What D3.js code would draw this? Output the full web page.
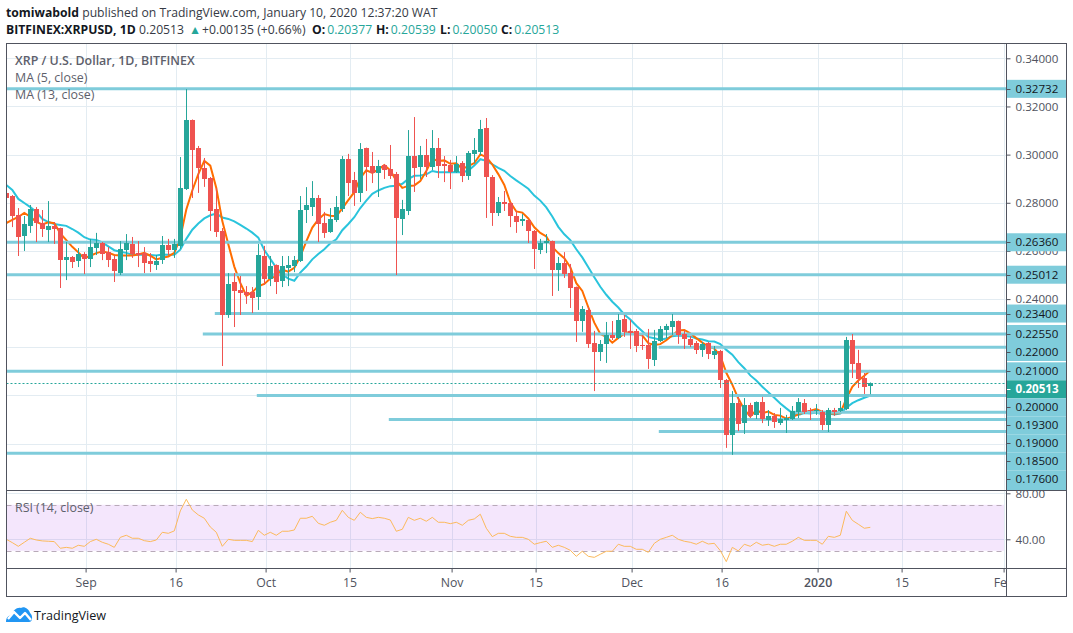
<!DOCTYPE html>
<html><head><meta charset="utf-8">
<style>
html,body{margin:0;padding:0;background:#fff;overflow:hidden}
svg{display:block}
text{font-family:"Open Sans","Noto Sans",sans-serif}
</style>
<script src="https://cdn.jsdelivr.net/npm/d3@7"></script>
</head><body>
<svg id="c" width="1073" height="633"></svg>
<script>
const firstDay = "2019-08-19";
const lastDay = "2020-01-10";
const opens = [.2841,.2828,.2749,.2662,.2704,.2774,.2716,.2687,.2704,.2695,.2562,.2575,.2558,.2587,.2566,.2612,.2633,.2595,.2566,.2508,.2604,.2629,.2591,.2591,.2558,.2542,.2562,.2625,.2604,.2621,.2857,.3144,.3027,.2944,.2903,.2774,.2683,.2334,.2471,.2438,.2429,.2429,.2409,.2579,.2484,.2542,.2475,.2529,.2537,.2558,.2770,.2782,.2820,.2716,.2679,.2729,.2774,.2982,.2895,.2841,.3027,.2953,.2924,.2957,.2940,.2919,.2733,.2766,.2994,.2949,.2998,.2949,.3027,.2961,.2957,.2928,.2965,.2911,.3003,.3011,.3110,.2907,.2758,.2803,.2799,.2745,.2724,.2729,.2683,.2604,.2633,.2641,.2521,.2550,.2508,.2450,.2309,.2355,.2218,.2180,.2214,.2251,.2238,.2317,.2268,.2268,.2209,.2209,.2147,.2226,.2272,.2284,.2309,.2255,.2234,.2218,.2189,.2218,.2168,.2184,.2064,.1836,.1969,.1885,.1960,.1919,.1973,.1898,.1914,.1885,.1898,.1902,.1931,.1969,.1939,.1935,.1931,.1877,.1939,.1935,.1944,.2230,.2135,.2072,.20377];
const highs = [.2853,.2832,.2778,.2745,.2791,.2782,.2770,.2807,.2720,.2697,.2637,.2579,.2612,.2595,.2650,.2675,.2637,.2616,.2583,.2641,.2670,.2658,.2641,.2616,.2591,.2583,.2662,.2650,.2650,.2990,.3272,.3146,.3036,.2986,.2907,.2861,.2695,.2508,.2508,.2496,.2454,.2450,.2629,.2621,.2579,.2544,.2579,.2579,.2579,.2828,.2865,.2890,.2832,.2762,.2778,.2828,.2994,.3003,.2928,.3048,.3029,.3011,.2978,.2961,.3040,.2928,.2812,.3102,.3156,.3036,.3065,.3102,.3069,.2994,.2978,.2994,.2973,.3015,.3069,.3144,.3152,.2915,.2824,.2849,.2803,.2766,.2753,.2731,.2687,.2650,.2670,.2643,.2575,.2595,.2546,.2452,.2371,.2367,.2268,.2230,.2305,.2309,.2338,.2334,.2313,.2276,.2251,.2276,.2272,.2288,.2297,.2338,.2311,.2272,.2247,.2226,.2222,.2222,.2205,.2189,.2068,.2018,.1994,.1989,.1969,.1975,.1994,.1939,.1927,.1948,.1919,.1956,.1989,.1985,.1948,.1964,.1939,.1948,.1948,.1977,.2243,.2255,.2189,.2093,.20539];
const lows = [.2791,.2699,.2579,.2600,.2675,.2637,.2658,.2637,.2629,.2446,.2479,.2529,.2533,.2504,.2533,.2583,.2562,.2533,.2471,.2500,.2562,.2571,.2533,.2508,.2512,.2521,.2546,.2583,.2571,.2608,.2853,.2820,.2841,.2866,.2683,.2658,.2122,.2322,.2284,.2334,.2380,.2342,.2355,.2459,.2454,.2421,.2450,.2454,.2512,.2554,.2716,.2745,.2637,.2654,.2675,.2720,.2762,.2828,.2787,.2803,.2849,.2882,.2824,.2899,.2899,.2500,.2666,.2749,.2845,.2899,.2907,.2936,.2903,.2886,.2857,.2924,.2886,.2895,.2965,.2998,.2737,.2704,.2745,.2766,.2699,.2675,.2704,.2633,.2525,.2587,.2591,.2413,.2434,.2488,.2363,.2222,.2264,.2197,.2018,.2143,.2135,.2230,.2234,.2243,.2193,.2180,.2189,.2110,.2122,.2222,.2238,.2251,.2214,.2193,.2201,.2172,.2160,.2151,.2151,.2031,.1782,.1753,.1852,.1840,.1906,.1902,.1885,.1873,.1865,.1877,.1844,.1898,.1906,.1923,.1898,.1919,.1856,.1848,.1915,.1931,.1939,.2072,.2031,.2006,.20050];
const closes = [.2820,.2745,.2658,.2712,.2774,.2716,.2691,.2704,.2691,.2562,.2575,.2554,.2587,.2566,.2616,.2633,.2587,.2562,.2517,.2608,.2633,.2587,.2583,.2550,.2546,.2558,.2625,.2604,.2629,.2861,.3144,.3019,.2944,.2899,.2766,.2679,.2334,.2463,.2434,.2425,.2417,.2405,.2583,.2484,.2537,.2471,.2537,.2542,.2562,.2770,.2791,.2820,.2712,.2675,.2733,.2782,.2982,.2882,.2841,.3023,.2949,.2924,.2953,.2936,.2911,.2737,.2774,.2994,.2944,.2998,.2949,.3027,.2953,.2953,.2928,.2961,.2911,.3007,.3019,.3106,.2907,.2758,.2803,.2795,.2745,.2720,.2733,.2683,.2608,.2633,.2641,.2521,.2550,.2504,.2446,.2309,.2359,.2214,.2180,.2214,.2251,.2238,.2313,.2264,.2259,.2205,.2205,.2151,.2226,.2276,.2288,.2309,.2251,.2234,.2210,.2189,.2214,.2172,.2184,.2064,.1836,.1969,.1881,.1960,.1914,.1973,.1902,.1914,.1890,.1902,.1906,.1935,.1973,.1931,.1935,.1939,.1877,.1939,.1931,.1948,.2230,.2131,.2068,.2035,.20513];
const ma5 = [.2716,.2729,.2741,.2758,.2742,.2721,.2710,.2719,.2715,.2673,.2645,.2617,.2594,.2569,.2580,.2591,.2598,.2593,.2583,.2581,.2581,.2581,.2585,.2592,.2580,.2565,.2572,.2577,.2592,.2655,.2772,.2851,.2919,.2974,.2954,.2861,.2724,.2628,.2535,.2467,.2414,.2429,.2453,.2463,.2485,.2496,.2522,.2514,.2530,.2577,.2640,.2697,.2731,.2753,.2746,.2744,.2777,.2811,.2844,.2902,.2935,.2924,.2938,.2957,.2934,.2892,.2862,.2870,.2872,.2890,.2932,.2983,.2974,.2976,.2962,.2964,.2941,.2952,.2965,.3001,.2990,.2959,.2919,.2874,.2802,.2764,.2759,.2735,.2698,.2675,.2660,.2617,.2591,.2570,.2532,.2466,.2434,.2366,.2302,.2255,.2243,.2219,.2239,.2256,.2265,.2256,.2249,.2217,.2209,.2213,.2229,.2250,.2270,.2272,.2258,.2238,.2219,.2204,.2194,.2165,.2094,.2045,.1987,.1942,.1912,.1939,.1926,.1933,.1919,.1916,.1903,.1910,.1921,.1930,.1936,.1943,.1931,.1925,.1925,.1927,.1985,.2036,.2062,.2082,.2103];
const ma13 = [.2874,.2853,.2816,.2799,.2782,.2762,.2733,.2720,.2712,.2708,.2704,.2691,.2676,.2657,.2647,.2645,.2635,.2619,.2603,.2597,.2592,.2584,.2585,.2584,.2583,.2581,.2585,.2584,.2584,.2605,.2650,.2688,.2714,.2735,.2748,.2755,.2739,.2733,.2723,.2708,.2693,.2676,.2655,.2604,.2567,.2530,.2503,.2485,.2476,.2510,.2535,.2565,.2587,.2607,.2632,.2648,.2686,.2712,.2740,.2778,.2809,.2837,.2851,.2862,.2869,.2871,.2879,.2899,.2912,.2913,.2918,.2932,.2927,.2927,.2927,.2928,.2926,.2934,.2955,.2981,.2974,.2960,.2945,.2933,.2911,.2893,.2876,.2858,.2830,.2809,.2781,.2743,.2700,.2669,.2645,.2607,.2573,.2532,.2491,.2451,.2418,.2389,.2365,.2336,.2315,.2289,.2266,.2243,.2237,.2231,.2236,.2246,.2249,.2247,.2245,.2236,.2232,.2225,.2224,.2213,.2189,.2169,.2138,.2113,.2083,.2062,.2036,.2013,.1990,.1966,.1946,.1927,.1919,.1927,.1925,.1929,.1922,.1925,.1921,.1925,.1949,.1968,.1980,.1990,.1999];
const rsi = [40.0,37.1,33.9,37.4,40.9,39.4,38.6,38.3,38.0,32.2,33.0,32.2,34.8,33.9,38.0,40.0,37.4,35.7,33.0,41.7,43.5,40.9,40.9,38.8,38.0,39.4,46.1,45.2,47.3,64.7,74.8,65.5,61.2,58.3,50.7,46.1,33.9,40.0,39.1,39.1,39.1,38.0,47.8,43.5,46.1,43.5,47.0,47.0,48.1,58.3,58.3,60.0,53.9,52.2,54.8,56.5,65.2,59.1,56.5,63.5,59.1,58.0,59.1,58.3,56.8,47.0,48.7,59.1,56.5,58.3,55.7,59.1,54.8,54.8,53.6,54.8,52.2,56.5,57.7,61.8,49.6,42.3,45.2,45.2,42.6,41.7,41.7,40.0,35.7,37.1,38.3,33.0,34.8,33.0,30.4,25.2,29.6,25.2,24.3,27.0,29.6,29.6,35.7,33.9,33.9,31.3,31.3,28.7,36.5,40.0,41.7,43.5,40.0,38.3,37.4,35.7,38.3,35.9,36.5,30.1,20.6,33.0,29.9,35.7,33.9,37.4,34.8,35.7,33.9,35.7,35.7,38.3,41.7,39.1,39.1,39.1,35.7,42.6,41.7,43.5,64.4,56.5,53.1,49.6,50.4];
const levels = [.32732,.2636,.25012,.234,.2255,.22,.21,.2,.193,.19,.185,.176];
const levelStarts = [null,null,null,"2019-09-23","2019-09-21","2019-12-06",null,"2019-09-30","2019-12-28","2019-10-22","2019-12-06",null];
const gridTicks = [.34,.32,.30,.28,.26,.24,.22,.20,.18];
const priceTicks = [.34,.32,.30,.28,.26,.24];
const rsiTicks = [80,40];
const rsiBand = [70,30];
const timeTicks = ["2019-09-01","2019-09-16","2019-10-01","2019-10-15","2019-11-01","2019-11-15","2019-12-01","2019-12-16","2020-01-01","2020-01-15","2020-02-01"];
const timeLabels = ["Sep","16","Oct","15","Nov","15","Dec","16","2020","15","Feb"];
const lastPrice = .20513;

const UP="#26a69a",DOWN="#ef5350",LINE="#7fccdb",GRID="#e3ecf2",BORDER="#50535e",TXT="#50535e";
const L=6.5,R=1006.5,RR=1066.5,T=43.5,B=490.5,RB=568.5,TB=596.5;
const day=s=>new Date(s+"T00:00:00Z");
const x=d3.scaleUtc().domain([day(firstDay),day(lastDay)]).range([6.3,870.3]);
const y=d3.scaleLinear().domain([.34,.20]).range([58.3,395.4]);
const ry=d3.scaleLinear().domain([80,40]).range([493.3,539.3]);
const at=i=>d3.utcDay.offset(day(firstDay),i);
const gridOff=1.3;
const svg=d3.select("#c");
const defs=svg.append("defs");
const clip=(id,a,b,c,d)=>defs.append("clipPath").attr("id",id).append("rect").attr("x",a).attr("y",b).attr("width",c-a).attr("height",d-b);
clip("main",L,T,R,B);clip("rs",L,B,R,RB);
const main=svg.append("g").attr("clip-path","url(#main)");
const rp=svg.append("g").attr("clip-path","url(#rs)");

// grid
const vg=t=>Math.round(x(day(t))+gridOff)+.5;
main.selectAll(".gv").data(timeTicks).join("line").attr("x1",vg).attr("x2",vg).attr("y1",T).attr("y2",B).attr("stroke",GRID);
main.selectAll(".gh").data(gridTicks).join("line").attr("x1",L).attr("x2",R).attr("y1",d=>Math.round(y(d))+.5).attr("y2",d=>Math.round(y(d))+.5).attr("stroke",GRID);
rp.selectAll(".gv").data(timeTicks).join("line").attr("x1",vg).attr("x2",vg).attr("y1",B).attr("y2",RB).attr("stroke",GRID);
rp.selectAll(".gh").data(rsiTicks).join("line").attr("x1",L).attr("x2",R).attr("y1",d=>Math.round(ry(d))+.5).attr("y2",d=>Math.round(ry(d))+.5).attr("stroke",GRID);

// MAs
const ln=v=>d3.line().x((d,i)=>x(at(i))).y(d=>y(d))(v);
main.append("path").attr("d",ln(ma13)).attr("fill","none").attr("stroke","#2ac4dc").attr("stroke-width",2);
main.append("path").attr("d",ln(ma5)).attr("fill","none").attr("stroke","#ff6d00").attr("stroke-width",2);

// level lines
main.selectAll(".lv").data(levels).join("line")
 .attr("x1",(d,i)=>levelStarts[i]?x(day(levelStarts[i])):L-3).attr("x2",R)
 .attr("y1",d=>y(d)).attr("y2",d=>y(d))
 .attr("stroke",LINE).attr("stroke-width",3).attr("stroke-linecap","square");

// candles
const idx=d3.range(closes.length);
const col=i=>closes[i]>=opens[i]?UP:DOWN;
main.selectAll(".w").data(idx).join("rect")
 .attr("x",i=>Math.round(x(at(i))-.5)).attr("width",1)
 .attr("y",i=>y(highs[i])).attr("height",i=>y(lows[i])-y(highs[i])).attr("fill",col);
main.selectAll(".b").data(idx).join("rect")
 .attr("x",i=>Math.round(x(at(i))-.5)-2).attr("width",5)
 .attr("y",i=>Math.round(y(Math.max(opens[i],closes[i]))))
 .attr("height",i=>Math.max(1,Math.round(Math.abs(y(opens[i])-y(closes[i])))))
 .attr("fill",col);

// last price dotted
main.append("line").attr("x1",L).attr("x2",R).attr("y1",Math.round(y(lastPrice))+.5).attr("y2",Math.round(y(lastPrice))+.5)
 .attr("stroke",UP).attr("stroke-dasharray","2 2");

// RSI
const bx2=Math.round(x(day(timeTicks[10]))+gridOff);
rp.append("rect").attr("x",L).attr("width",bx2-L).attr("y",ry(rsiBand[0])).attr("height",ry(rsiBand[1])-ry(rsiBand[0])).attr("fill","rgba(155,31,232,0.11)");
rp.selectAll(".bd").data(rsiBand).join("line").attr("x1",L).attr("x2",bx2).attr("y1",d=>Math.round(ry(d))+.5).attr("y2",d=>Math.round(ry(d))+.5)
 .attr("stroke","#b8aab8").attr("stroke-dasharray","5 4");
rp.append("path").attr("d",d3.line().x((d,i)=>x(at(i))).y(d=>ry(d))(rsi)).attr("fill","none").attr("stroke","#fbb95c").attr("stroke-width",1);

// price axis
const AF=11.6;
const pa=d3.axisRight(y).tickValues(priceTicks).tickFormat(d3.format(".5f")).tickSize(4).tickPadding(5);
const pg=svg.append("g").attr("transform",`translate(${R},0)`).call(pa);
pg.select(".domain").remove();
pg.selectAll("text").attr("font-size",AF).attr("fill",TXT).style("font-family",'"Open Sans"');
pg.selectAll("line").attr("stroke",BORDER);

// tags, pushed down so they do not overlap
const tagVals=[...levels,lastPrice].sort((a,b)=>b-a);
let prev=-1e9;const TH=18;
const tags=svg.append("g");
tagVals.forEach((v,k)=>{
 let c=Math.max(y(v),prev+TH);prev=c;
 const live=v===lastPrice,last=k===tagVals.length-1;
 tags.append("rect").attr("x",R).attr("width",RR-R).attr("y",c-TH/2).attr("height",last?B-(c-TH/2):TH).attr("fill",live?UP:LINE);
 tags.append("line").attr("x1",R).attr("x2",R+4).attr("y1",Math.round(c)+.5).attr("y2",Math.round(c)+.5).attr("stroke",live?"#fff":BORDER);
 tags.append("text").attr("x",R+9).attr("y",c).attr("dy",".36em").attr("font-size",AF)
  .attr("font-weight",live?700:400).attr("fill",live?"#fff":"#131722").text(d3.format(".5f")(v));
});

// rsi axis
const ra=d3.axisRight(ry).tickValues(rsiTicks).tickFormat(d3.format(".2f")).tickSize(4).tickPadding(5);
const rg=svg.append("g").attr("transform",`translate(${R},0)`).attr("clip-path","url(#rsaxisT)").call(ra);
defs.append("clipPath").attr("id","rsaxisT").append("rect").attr("x",0).attr("y",B).attr("width",70).attr("height",RB-B);
rg.select(".domain").remove();
rg.selectAll("text").attr("font-size",AF).attr("fill",TXT).style("font-family",'"Open Sans"');
rg.selectAll("line").attr("stroke",BORDER);

// time axis
const ta=d3.axisBottom(x).tickValues(timeTicks.map(day)).tickFormat((d,i)=>timeLabels[i]).tickSize(4).tickPadding(6);
const tg=svg.append("g").attr("transform",`translate(${gridOff},${RB})`).attr("clip-path","url(#tmT)").call(ta);
defs.append("clipPath").attr("id","tmT").append("rect").attr("x",L-gridOff).attr("y",0).attr("width",R-L).attr("height",TB-RB);
tg.select(".domain").remove();
tg.selectAll("line").attr("stroke",BORDER);
tg.selectAll("text").attr("font-size",12.3).attr("fill",TXT).style("font-family",'"Open Sans"')
 .attr("font-weight",(d,i)=>timeLabels[i]==="2020"?600:400);

// frame
const fr=svg.append("g").attr("fill","none").attr("stroke",BORDER);
fr.append("rect").attr("x",L).attr("y",T).attr("width",RR-L).attr("height",TB-T);
fr.append("line").attr("x1",R).attr("x2",R).attr("y1",T).attr("y2",TB);
fr.append("line").attr("x1",L).attr("x2",RR).attr("y1",B).attr("y2",B);
fr.append("line").attr("x1",L).attr("x2",RR).attr("y1",RB).attr("y2",RB);

// pane legends
const lg=svg.append("g").attr("fill","#5d606b").attr("font-size",12.4);
lg.append("text").attr("x",15).attr("y",65).attr("font-weight",600).text("XRP / U.S. Dollar, 1D, BITFINEX");
lg.append("text").attr("x",15).attr("y",82).text("MA (5, close)");
lg.append("text").attr("x",15).attr("y",99).text("MA (13, close)");
lg.append("text").attr("x",15).attr("y",512).text("RSI (14, close)");

// header
const hd=svg.append("g").attr("fill","#131722").attr("font-size",12.2);
const h1=hd.append("text").attr("x",6).attr("y",17);
h1.append("tspan").attr("font-weight",700).text("tomiwabold");
h1.append("tspan").attr("fill","#363a45").text(" published on TradingView.com, January 10, 2020 12:37:20 WAT");
const h2=hd.append("text").attr("x",6).attr("y",34);
h2.append("tspan").attr("font-weight",700).text("BITFINEX:XRPUSD, 1D");
h2.append("tspan").attr("x",139).attr("fill","#363a45").text("0.20513");
h2.append("tspan").attr("x",189).attr("fill",UP).text("▲");
h2.append("tspan").attr("x",202).attr("fill","#363a45").text("+0.00135 (+0.66%)");
const ohlc=[["O:",opens[144],312],["H:",highs[144],376],["L:",lows[144],440],["C:",closes[144],501]];
const fm=d3.format(".5f");
ohlc.forEach(([k,v,px])=>{
 h2.append("tspan").attr("x",px).attr("font-weight",700).text(k);
 h2.append("tspan").attr("dx",2).attr("fill",UP).text(fm(v));
});

// logo
const logo=svg.append("g").attr("transform","translate(6,606)");
logo.append("path").attr("d","M0 16 C0 11 3 9 6 9 C7 4 11 1 15 2 C18 0 23 3 24 7 C27 9 27 16 23 16 Z").attr("fill","#2196f3");
logo.append("path").attr("d","M2 13 L8 6 L14 12 L19 7 L25 14").attr("fill","none").attr("stroke","#fff").attr("stroke-width",2.4).attr("stroke-linejoin","round");
svg.append("text").attr("x",34).attr("y",620).attr("font-size",12.6).attr("fill","#131722").text("TradingView");
</script>
</body></html>
